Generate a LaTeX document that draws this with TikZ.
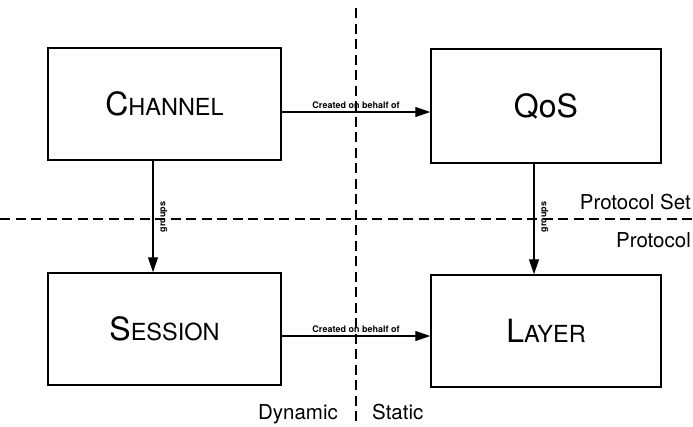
\documentclass[tikz,border=0pt]{standalone}
\usepackage{fontspec}
\setmainfont{TeX Gyre Heros}
\usetikzlibrary{arrows.meta}
% fake small caps: large initial, smaller capitals
\newcommand\fakesc[2]{{\fontsize{32}{34}\selectfont #1}{\fontsize{23.5}{25}\selectfont #2}}
\begin{document}
\begin{tikzpicture}[x=1pt,y=-1pt,
  entity/.style={draw,line width=1.5pt,minimum width=233pt,minimum height=112pt,inner sep=0pt},
  link/.style={line width=1.3pt,-{Triangle[length=15pt,width=10pt]}},
  divider/.style={line width=1.3pt,dash pattern=on 10pt off 5.5pt},
  tag/.style={font=\bfseries\fontsize{9}{10}\selectfont,inner sep=1pt},
  side/.style={font=\fontsize{20.5}{22}\selectfont,inner sep=0pt}]
\useasboundingbox (0,0) rectangle (693,426);

% dividing lines
\coordinate (vtop) at (356,8);
\coordinate (vbot) at (356,424);
\coordinate (hleft) at (0,219);
\coordinate (hright) at (693,219);
\draw[divider] (vtop) -- (vbot);
\draw[divider] (hleft) -- (hright);

% entities
\node[entity] (channel) at (164.5,104) {\fakesc{C}{HANNEL}};
\node[entity] (session) at (164.5,329) {\fakesc{S}{ESSION}};
\node[entity,minimum width=230pt,minimum height=114pt] (qos) at (546,106)
  {\fontsize{32}{34}\selectfont QoS};
\node[entity,minimum width=230pt] (layer) at (546,331) {\fakesc{L}{AYER}};

% "created on behalf of" links
\coordinate (c1) at ([yshift=-8pt]channel.east);
\draw[link] (c1) -- (qos.west |- c1)
  node[midway,above=2pt,tag] (l1) {Created on behalf of};
\coordinate (c2) at ([yshift=-7pt]session.east);
\draw[link] (c2) -- (layer.west |- c2)
  node[midway,above=2pt,tag] (l2) {Created on behalf of};

% "groups" links
\coordinate (c3) at ([xshift=-11.5pt]channel.south);
\draw[link] (c3) -- (session.north -| c3);
\node[tag,rotate=90] (g1) at (164,217) {groups};
\coordinate (c4) at ([xshift=-12pt]qos.south);
\draw[link] (c4) -- (layer.north -| c4);
\node[tag,rotate=90] (g2) at (545,217) {groups};

% region labels
\node[side,anchor=base east] (pset) at (691,209) {Protocol Set};
\node[side,anchor=base east] (proto) at (691,247) {Protocol};
\node[side,anchor=base east] (dyn) at (338,419) {Dynamic};
\node[side,anchor=base west] (stat) at (372,419) {Static};
\end{tikzpicture}
\end{document}
